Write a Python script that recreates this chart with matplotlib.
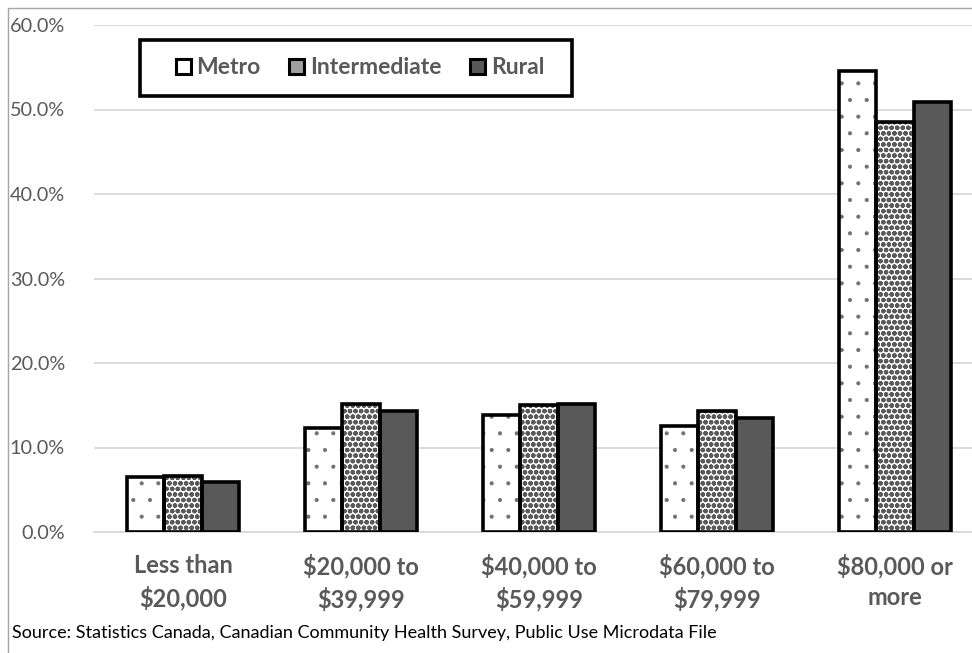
import matplotlib.pyplot as plt
import matplotlib.patches as mpatches
import numpy as np

categories = ['Less than\n$20,000', '$20,000 to\n$39,999', '$40,000 to\n$59,999',
              '$60,000 to\n$79,999', '$80,000 or\nmore']
series = ['Metro', 'Intermediate', 'Rural']
metro = [6.5, 12.3, 13.9, 12.5, 54.6]
intermediate = [6.6, 15.2, 15.0, 14.3, 48.5]
rural = [5.9, 14.3, 15.2, 13.5, 50.9]
yticks = [0, 10, 20, 30, 40, 50, 60]

plt.rcParams['font.family'] = ['Lato', 'DejaVu Sans']
grey = '#595959'

W, H = 972, 653
fig = plt.figure(figsize=(W / 100, H / 100), dpi=100)
ax = fig.add_axes([94 / W, 121 / H, 890 / W, 507 / H])

x = np.arange(len(categories))
w = 0.21
styles = [
    (metro, 'white', '.', '#707070', 0.5),
    (intermediate, 'white', 'ooo', '#5a5a5a', 1.6),
    (rural, '#595959', None, '#595959', 1.0),
]
for i, (vals, fc, hatch, hc, hlw) in enumerate(styles):
    pos = x + (i - 1) * w
    # fill + hatch first, then the heavy black outline on top
    with plt.rc_context({'hatch.linewidth': hlw}):
        ax.bar(pos, vals, w, color=fc, hatch=hatch, edgecolor=hc, linewidth=0, zorder=2)
    ax.bar(pos, vals, w, fill=False, edgecolor='black', linewidth=2.6, zorder=3)

ax.set_xlim(-0.5, 4.5)
ax.set_ylim(0, 60)
ax.set_yticks(yticks)
ax.set_yticklabels(['%.1f%%' % v for v in yticks], fontsize=14.3, color=grey)
ax.set_xticks(x)
ax.set_xticklabels(categories, fontsize=17, fontweight='bold', color=grey, linespacing=1.4)
ax.tick_params(axis='both', length=0)
ax.tick_params(axis='y', pad=21)
ax.tick_params(axis='x', pad=16)
ax.grid(axis='y', color='#d9d9d9', linewidth=1.3, zorder=0)
ax.set_axisbelow(True)
for s in ['top', 'right', 'left']:
    ax.spines[s].set_visible(False)
ax.spines['bottom'].set_color('#d9d9d9')
ax.spines['bottom'].set_linewidth(1.3)

# outer chart border (only left/top fall inside the figure)
fig.patches.append(mpatches.Rectangle((8 / W, -0.1), 1.2, 1 - 8 / H + 0.1,
                                      transform=fig.transFigure, fill=False,
                                      edgecolor='#a6a6a6', linewidth=1.0))

# legend box
fig.patches.append(mpatches.Rectangle((140 / W, 1 - 96 / H), 432 / W, 56 / H,
                                      transform=fig.transFigure, fill=True,
                                      facecolor='white', edgecolor='black',
                                      linewidth=2.6, zorder=5))
handles = [
    mpatches.Patch(facecolor='white', edgecolor='black', linewidth=2.2),
    mpatches.Patch(facecolor='#a0a0a0', edgecolor='black', linewidth=2.2),
    mpatches.Patch(facecolor='#595959', edgecolor='black', linewidth=2.2),
]
leg = fig.legend(handles, series, loc='center', bbox_to_anchor=(360 / W, 1 - 68 / H),
                 ncol=3, frameon=False, handlelength=0.65, handleheight=0.65,
                 handletextpad=0.25, columnspacing=1.25,
                 prop={'size': 16.5, 'weight': 'bold'})
for t in leg.get_texts():
    t.set_color(grey)
leg.set_zorder(6)

fig.text(12 / W, 1 - 633 / H,
         'Source: Statistics Canada, Canadian Community Health Survey, Public Use Microdata File',
         fontsize=13, color='black', va='center', ha='left')

fig.savefig('out.png', dpi=100)
